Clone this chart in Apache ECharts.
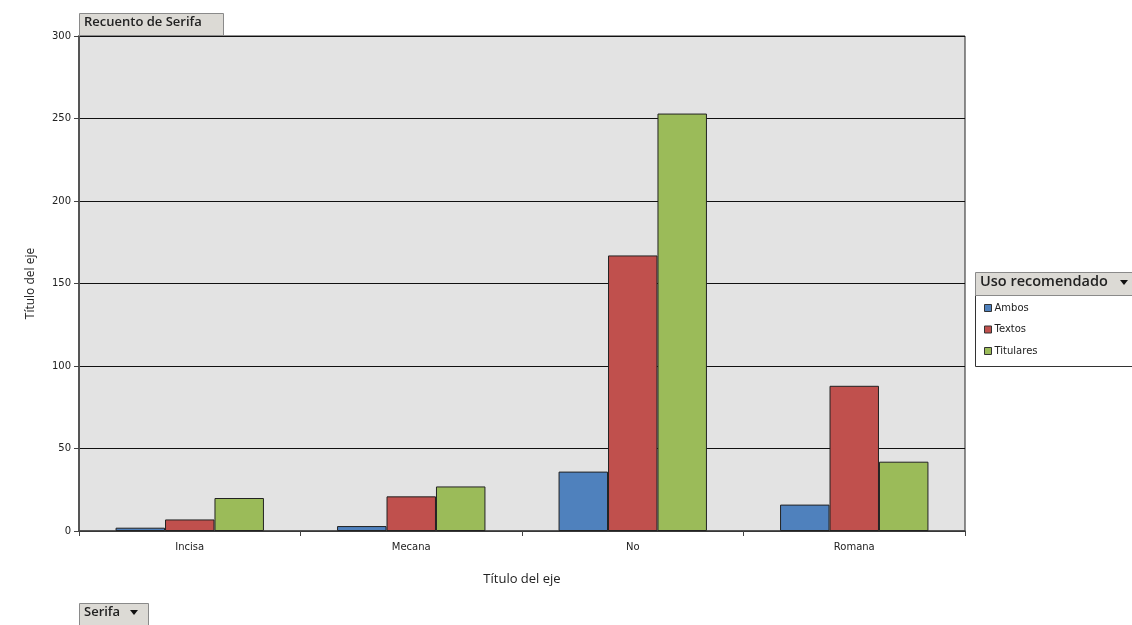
<!DOCTYPE html>
<html>
<head>
<meta charset="utf-8">
<script src="https://cdn.jsdelivr.net/npm/echarts@6/dist/echarts.min.js"></script>
<style>html,body{margin:0;padding:0;background:#fff}#c{width:1132px;height:625px}</style>
</head>
<body>
<div id="c"></div>
<script>
const categories = ['Incisa', 'Mecana', 'No', 'Romana'];
const ambos = [2, 3, 36, 16];
const textos = [7, 21, 167, 88];
const titulares = [20, 27, 253, 42];
const seriesNames = ['Ambos', 'Textos', 'Titulares'];
const yTicks = [0, 50, 100, 150, 200, 250, 300];

const colors = ['#4f81bd', '#c0504d', '#9bbb59'];
const font = '"Open Sans", "DejaVu Sans", sans-serif';
const smallFont = '"DejaVu Sans", sans-serif';
const chart = echarts.init(document.getElementById('c'), null, {renderer: 'canvas'});
const values = [ambos, textos, titulares];
chart.setOption({
  animation: false,
  backgroundColor: '#ffffff',
  color: colors,
  grid: {left: 79, right: 167, top: 36, bottom: 94, show: true, backgroundColor: '#e3e3e3', borderColor: '#222', borderWidth: 1},
  legend: {
    data: seriesNames, orient: 'vertical', left: 979, top: 298, itemWidth: 7, itemHeight: 7, itemGap: 11.5, icon: 'rect',
    itemStyle: {borderColor: '#333', borderWidth: 1},
    textStyle: {fontFamily: smallFont, fontSize: 10, color: '#222', padding: [0, 0, 0, -2]}
  },
  xAxis: {
    type: 'category', data: categories,
    axisLine: {lineStyle: {color: '#444', width: 1.5}},
    axisTick: {show: true, length: 5, lineStyle: {color: '#444'}},
    axisLabel: {fontFamily: smallFont, fontSize: 10, color: '#222', margin: 11},
    name: 'Título del eje', nameLocation: 'middle', nameGap: 42,
    nameTextStyle: {fontFamily: font, fontSize: 13, color: '#222'}
  },
  yAxis: {
    type: 'value', min: 0, max: 300, interval: 50,
    axisLine: {show: true, lineStyle: {color: '#555', width: 2}},
    axisTick: {show: true, length: 5, lineStyle: {color: '#444'}},
    splitLine: {lineStyle: {color: '#111', width: 1}},
    axisLabel: {fontFamily: smallFont, fontSize: 10, color: '#222', margin: 8,
      formatter: v => yTicks.includes(v) ? String(v) : ''},
    name: 'Título del eje', nameLocation: 'middle', nameGap: 42, nameRotate: 90,
    nameTextStyle: {fontFamily: font, fontSize: 12, color: '#222'}
  },
  series: seriesNames.map((n, i) => ({
    name: n, type: 'bar', data: values[i],
    barGap: '0%', barCategoryGap: '33%',
    itemStyle: {color: colors[i], borderColor: '#222', borderWidth: 1}
  })),
  graphic: [
    {type: 'rect', shape: {x: 79.5, y: 13.5, width: 144, height: 22}, style: {fill: '#dcdad5', stroke: '#8a8a8a', lineWidth: 1}, z: 10},
    {type: 'text', x: 84, y: 16, style: {text: 'Recuento de Serifa', font: '600 13px ' + font, fill: '#222'}, z: 11},
    {type: 'rect', shape: {x: 79.5, y: 603.5, width: 69, height: 23}, style: {fill: '#dcdad5', stroke: '#8a8a8a', lineWidth: 1}, z: 10},
    {type: 'text', x: 84, y: 606, style: {text: 'Serifa', font: '600 13px ' + font, fill: '#222'}, z: 11},
    {type: 'polygon', shape: {points: [[130, 610], [138, 610], [134, 615]]}, style: {fill: '#111'}, z: 11},
    {type: 'rect', shape: {x: 975.5, y: 295.5, width: 160, height: 71}, style: {fill: '#fff', stroke: '#333', lineWidth: 1}, z: -1},
    {type: 'rect', shape: {x: 975.5, y: 272.5, width: 160, height: 23}, style: {fill: '#dcdad5', stroke: '#8a8a8a', lineWidth: 1}, z: 10},
    {type: 'text', x: 980, y: 274, style: {text: 'Uso recomendado', font: '600 14.5px ' + font, fill: '#222'}, z: 11},
    {type: 'polygon', shape: {points: [[1120, 280], [1128, 280], [1124, 285]]}, style: {fill: '#111'}, z: 11}
  ]
});
</script>
</body>
</html>
